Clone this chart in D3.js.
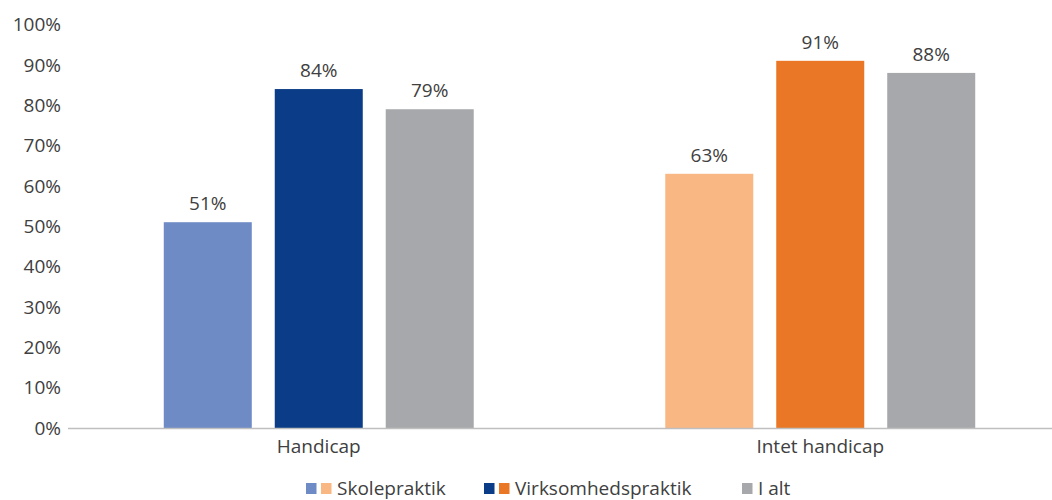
<!DOCTYPE html>
<html>
<head>
<meta charset="utf-8">
<script src="https://cdn.jsdelivr.net/npm/d3@7"></script>
<style>
  body { margin: 0; background: #fff; }
  text { font-family: "Open Sans", sans-serif; fill: #404040; }
</style>
</head>
<body>
<div class="chart"></div>
<script>
const groups = ["Handicap", "Intet handicap"];
const series = ["Skolepraktik", "Virksomhedspraktik", "I alt"];
const handicapValues = [0.51, 0.84, 0.79];
const intetValues = [0.63, 0.91, 0.88];
const yTicks = [0, 0.1, 0.2, 0.3, 0.4, 0.5, 0.6, 0.7, 0.8, 0.9, 1];
const handicapColors = ["#6e8bc6", "#0a3c87", "#a7a8ab"];
const intetColors = ["#f9b783", "#e97726", "#a7a8ab"];

const svgWidth = 1052;
const svgHeight = 500;
const fontSize = 19;

let rows = [
  {group: groups[0], values: handicapValues, colors: handicapColors},
  {group: groups[1], values: intetValues, colors: intetColors}
];

let svg = d3.select(".chart")
  .append("svg")
  .attr("width", svgWidth)
  .attr("height", svgHeight);

let x0 = d3.scaleBand()
  .domain(groups)
  .range([68, 1071])
  .paddingInner(0)
  .paddingOuter(0);

let x1 = d3.scaleBand()
  .domain(series)
  .range([0, x0.bandwidth()])
  .paddingInner(0.207)
  .paddingOuter(0.863);

let yScale = d3.scaleLinear()
  .domain([0, 1])
  .range([428, 24.5]);

// y tick labels
svg.append("g")
  .attr("class", "y-axis")
  .selectAll("text")
  .data(yTicks)
  .enter()
  .append("text")
  .attr("x", 61)
  .attr("y", (d) => yScale(d))
  .attr("dy", "0.35em")
  .attr("text-anchor", "end")
  .style("font-size", fontSize + "px")
  .text((d) => Math.round(d * 100) + "%");

// bars
let gGroups = svg.append("g")
  .attr("class", "bars")
  .selectAll("g")
  .data(rows)
  .enter()
  .append("g")
  .attr("transform", (d) => `translate(${x0(d.group)}, 0)`);

let cells = gGroups.selectAll("g")
  .data((d) => d.values.map((v, i) => ({key: series[i], value: v, color: d.colors[i]})))
  .enter()
  .append("g");

cells.append("rect")
  .attr("x", (d) => x1(d.key))
  .attr("y", (d) => yScale(d.value))
  .attr("width", x1.bandwidth())
  .attr("height", (d) => yScale(0) - yScale(d.value))
  .attr("fill", (d) => d.color);

cells.append("text")
  .attr("x", (d) => x1(d.key) + x1.bandwidth() / 2)
  .attr("y", (d) => yScale(d.value) - 12)
  .attr("text-anchor", "middle")
  .style("font-size", fontSize + "px")
  .text((d) => Math.round(d.value * 100) + "%");

// x axis line
svg.append("line")
  .attr("x1", x0.range()[0])
  .attr("x2", svgWidth)
  .attr("y1", yScale(0) + 0.5)
  .attr("y2", yScale(0) + 0.5)
  .attr("stroke", "#bfbfbf")
  .attr("stroke-width", 1.5);

// category labels
svg.append("g")
  .attr("class", "x-axis")
  .selectAll("text")
  .data(groups)
  .enter()
  .append("text")
  .attr("x", (d) => x0(d) + x0.bandwidth() / 2)
  .attr("y", 453)
  .attr("text-anchor", "middle")
  .style("font-size", fontSize + "px")
  .text((d) => d);

// legend
let legendItems = [
  {label: series[0], colors: [handicapColors[0], intetColors[0]]},
  {label: series[1], colors: [handicapColors[1], intetColors[1]]},
  {label: series[2], colors: [handicapColors[2]]}
];
let legendStarts = [306, 484, 742];
let legend = svg.append("g").attr("class", "legend");
legendItems.forEach((item, i) => {
  let g = legend.append("g")
    .attr("transform", `translate(${legendStarts[i]}, 0)`);
  g.selectAll("rect")
    .data(item.colors)
    .enter()
    .append("rect")
    .attr("x", (d, j) => j * 15)
    .attr("y", 483)
    .attr("width", 10.5)
    .attr("height", 11)
    .attr("fill", (d) => d);
  g.append("text")
    .attr("x", item.colors.length * 15 + 1)
    .attr("y", 494.5)
    .style("font-size", fontSize + "px")
    .text(item.label);
});
</script>
</body>
</html>
